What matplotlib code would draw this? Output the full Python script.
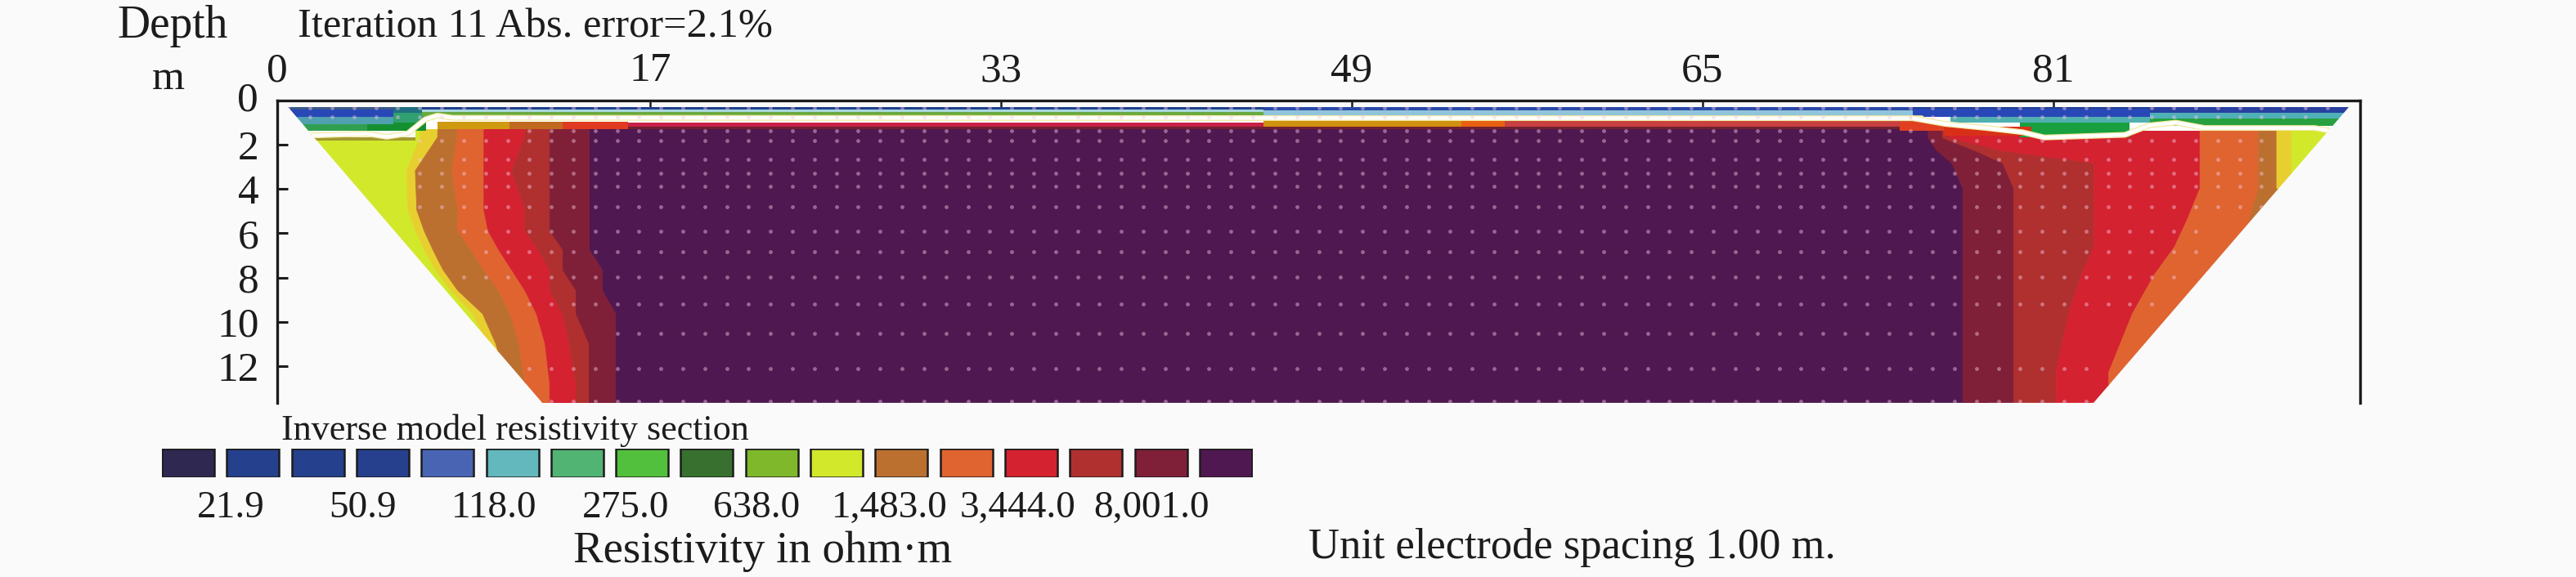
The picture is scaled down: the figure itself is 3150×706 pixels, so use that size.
import matplotlib
matplotlib.use('Agg')
import matplotlib.pyplot as plt
import numpy as np
from matplotlib.patches import Polygon

W, H = 3150, 706
BG = '#fafafa'
INK = '#1c1c1c'
plt.rcParams['font.family'] = ['Liberation Serif', 'DejaVu Serif']

# legend
swatch_colors = ['#2f2850', '#25408c', '#25408c', '#27408e', '#4a64b4', '#62b8bc', '#52b473',
                 '#52c03c', '#38702f', '#7fb82a', '#d2e82a', '#bc7030', '#e06430', '#d42230',
                 '#b03030', '#802038', '#501850']
legend_labels = ['21.9', '50.9', '118.0', '275.0', '638.0', '1,483.0', '3,444.0', '8,001.0']
legend_label_pos = [1.06, 3.09, 5.12, 7.15, 9.17, 11.22, 13.2, 15.26]

YELLOW, GOLD, BROWN, ORANGE, RED, BRICK, MAROON, PURPLE = ('#d2e82a', '#e8cf30', '#bc7030', '#e06430',
                                                           '#d42230', '#b03030', '#802038', '#501850')

xticks = [0, 17, 33, 49, 65, 81]
yticks = [2, 4, 6, 8, 10, 12]

# section outline, electrode units / metres
outline_x = [0.48, 94.5, 82.84, 12.09]
outline_d = [0.28, 0.28, 13.66, 13.66]

# left side: colour boundaries per depth row
left_top = [1.3, 1.98, 4.32, 5.55, 6.17, 7.27, 8.01, 9.12, 10.11, 11.83]
left_bot = [1.98, 4.32, 5.55, 6.17, 7.27, 8.01, 9.12, 10.11, 11.83, 13.66]
left_gold = [6.5, 5.9, 5.95, 6.3, 6.7, 7.2, 7.9, 8.9, 9.6, 10.5]
left_brown = [7.3, 6.28, 6.35, 6.68, 7.08, 7.55, 8.22, 9.35, 9.95, 10.5]
left_orange = [8.2, 7.95, 8.22, 8.22, 8.82, 9.41, 10.08, 10.61, 11.01, 11.28]
left_red = [9.41, 9.41, 9.41, 9.6, 10.08, 10.68, 11.28, 11.81, 12.2, 12.41]
left_brick = [11.28, 10.68, 11.28, 11.28, 11.88, 12.41, 12.41, 13.01, 13.3, 13.61]
left_maroon = [12.41, 12.41, 12.41, 12.41, 13.01, 13.01, 13.61, 13.61, 14.21, 14.21]
left_purple = [14.21, 14.21, 14.21, 14.21, 14.21, 14.81, 14.81, 15.41, 15.41, 15.41]

# right side
right_top = [1.37, 1.98, 2.53, 3.09, 4.81, 5.92, 7.27, 8.44, 10.78]
right_bot = [1.98, 2.53, 3.09, 4.81, 5.92, 7.27, 8.44, 10.78, 13.74]
right_maroon = [75.28, 75.69, 76.36, 76.86, 76.86, 76.86, 76.86, 76.86, 76.86]
right_brick = [75.94, 77.44, 78.69, 79.19, 79.19, 79.19, 79.19, 79.19, 79.19]
right_red = [76.28, 78.69, 82.85, 82.85, 82.85, 82.85, 82.27, 81.69, 81.11]
right_orange = [87.68, 87.68, 87.68, 87.68, 87.1, 86.52, 85.6, 84.6, 83.52]
right_brown = [90.35, 90.35, 90.35, 90.35, 89.93, 95, 95, 95, 95]
right_gold = [91.18, 91.18, 91.18, 91.18, 95, 95, 95, 95, 95]
right_yellow = [91.85, 91.85, 91.85, 91.85, 95, 95, 95, 95, 95]

# shallow layers
surf_x0 = [0, 0, 0, 0, 5.3, 5.3, 5.3, 4.1, 0, 0,
           6.6, 6.6, 6.6, 45, 45, 74.6, 74.6, 76.3, 79.5, 85.4, 85.4, 85.4,
           7.3, 10.6, 13, 16, 45, 54, 56, 16, 74, 76]
surf_x1 = [5.5, 5.5, 5.5, 5.5, 6.8, 6.8, 6.8, 6.3, 6.3, 6.3,
           45, 45, 45, 75, 75, 85.4, 85.4, 85.4, 84.5, 95, 95, 95,
           10.6, 13, 16, 45, 54, 56, 75, 75, 76, 80]
surf_top = [0.28, 0.41, 0.75, 1.06, 0.28, 0.55, 1.0, 1.06, 1.37, 1.68,
            0.28, 0.42, 0.52, 0.28, 0.44, 0.3, 0.38, 0.75, 1.0, 0.3, 0.57, 0.81,
            0.95, 0.95, 0.95, 1.0, 0.87, 0.87, 0.87, 1.2, 0.95, 1.2]
surf_bot = [0.41, 0.75, 1.06, 1.37, 0.55, 1.0, 1.37, 1.37, 1.68, 1.8,
            0.42, 0.52, 0.7, 0.44, 0.75, 0.38, 0.75, 1.0, 1.68, 0.57, 0.81, 1.15,
            1.3, 1.3, 1.3, 1.25, 1.3, 1.3, 1.3, 1.3, 1.37, 1.6]
surf_col = ['#3a5a88', '#2848b8', '#50a0b0', '#30a050', '#1f6f80', '#30a070', '#159030', '#159030', '#ffffff', '#a09a30',
            '#1f3f90', '#a8d8dc', '#6aa840', '#2a48a8', '#90c4dc', '#1f3f90', '#2848b8', '#50b0b0', '#18a040',
            '#2840a0', '#50b0b8', '#28a040',
            '#d09a10', '#c06a20', '#e03a20', '#c82048', '#d09010', '#e86010', '#c84040', '#702030', '#e04020', '#d83018']

# white contour lines
white_left_x = [1.6, 4.1, 5.0, 5.95, 6.75, 7.3, 8.0, 75.0]
white_left_d = [1.58, 1.5, 1.64, 1.49, 0.85, 0.68, 0.78, 0.8]
white_right_x = [74.6, 76.1, 77.94, 79.6, 80.6, 84.27, 85.4, 86.6, 87.9, 92.93, 93.6]
white_right_d = [0.8, 1.06, 1.24, 1.43, 1.67, 1.55, 1.12, 1.0, 1.24, 1.24, 1.37]

# data points (half electrode positions)
dot_depth = [0.33, 0.75, 1.37, 1.81, 2.66, 3.29, 3.88, 4.8, 5.9, 6.83, 7.98, 9.2, 10.52, 12.11, 13.6]
dot_first = [0.5, 1.5, 11.5, 6.5, 6.5, 6.5, 6.5, 6.5, 8.5, 9.5, 8.5, 11.5, 15.5, 11.5, 12.5]
dot_last = [94.5, 92.5, 74.5, 90.5, 90.5, 90.5, 90.5, 90.5, 87.5, 87.5, 86.5, 85.5, 77.5, 82.5, 82.5]

fig = plt.figure(figsize=(W / 100, H / 100), dpi=100, facecolor=BG)

left, right, top, bottom = 339, 2886, 123, 493
ax = fig.add_axes([left / W, 1 - bottom / H, (right - left) / W, (bottom - top) / H], facecolor=BG)
ax.set_xlim(0, 95)
ax.set_ylim((bottom - top) / 27.08, 0)

clip = Polygon(np.column_stack([outline_x, outline_d]), closed=True, transform=ax.transData,
               facecolor='#ffffff', edgecolor='none', zorder=1)
ax.add_patch(clip)


def band(x0, x1, d0, d1, color, z=3):
    b = ax.barh((np.array(d0) + np.array(d1)) / 2, np.array(x1) - np.array(x0), left=x0,
                height=np.array(d1) - np.array(d0), color=color, linewidth=0, zorder=z)
    for p in b:
        p.set_clip_path(clip)


def column(x0, x1, tops, bots, color):
    # edges run straight between the row middles
    tops, bots = np.array(tops), np.array(bots)
    d = np.r_[tops[0], (tops + bots) / 2, bots[-1]]
    a = np.r_[x0[0], x0, x0[-1]]
    b = np.r_[x1[0], x1, x1[-1]]
    poly = ax.fill_betweenx(d, a, b, color=color, linewidth=0.6, zorder=2)
    poly.set_clip_path(clip)


band([14], [78], [1.3], [13.66], PURPLE, z=2)

left_cols = [left_gold, left_brown, left_orange, left_red, left_brick, left_maroon, left_purple]
left_colors = [GOLD, BROWN, ORANGE, RED, BRICK, MAROON]
column(np.zeros(len(left_top)), left_gold, left_top, left_bot, YELLOW)
for i, c in enumerate(left_colors):
    column(left_cols[i], left_cols[i + 1], left_top, left_bot, c)

right_cols = [right_maroon, right_brick, right_red, right_orange, right_brown, right_gold, right_yellow]
right_colors = [MAROON, BRICK, RED, ORANGE, BROWN, GOLD]
for i, c in enumerate(right_colors):
    column(right_cols[i], right_cols[i + 1], right_top, right_bot, c)
column(right_yellow, np.full(len(right_top), 95), right_top, right_bot, YELLOW)

for x0, x1, d0, d1, c in zip(surf_x0, surf_x1, surf_top, surf_bot, surf_col):
    band([x0], [x1], [d0], [d1], c)

for xs, ds in [(white_left_x, white_left_d), (white_right_x, white_right_d)]:
    ln1, = ax.plot(xs, ds, color='#f2eaa0', lw=5.0, zorder=4, solid_capstyle='round')
    ln2, = ax.plot(xs, ds, color='#ffffff', lw=3.2, zorder=4, solid_capstyle='round')
    ln1.set_clip_path(clip)
    ln2.set_clip_path(clip)

for d, a, b in zip(dot_depth, dot_first, dot_last):
    xs = np.arange(a, b + 0.5)
    s = ax.scatter(xs, np.full(len(xs), d), s=12, color='#f4c8e4', alpha=0.45, linewidths=0, zorder=5)
    s.set_clip_path(clip)

ax.spines['bottom'].set_visible(False)
for k in ['left', 'top', 'right']:
    ax.spines[k].set_linewidth(2.4)
    ax.spines[k].set_color(INK)
ax.xaxis.tick_top()
ax.set_xticks(xticks)
ax.set_yticks(yticks)
ax.tick_params(axis='x', direction='in', length=9.5, width=1.8, pad=9, labelsize=37, colors=INK)
ax.tick_params(axis='y', direction='in', length=9.5, width=2.2, pad=16, labelsize=37, colors=INK)
# the zero of the depth axis has a label of its own, above the corner
fig.text(316 / W, 1 - 123 / H, '0', ha='right', va='center', fontsize=37, color=INK)

# colour legend
leg = fig.add_axes([198 / W, 1 - 584 / H, (1532 - 198) / W, 35 / H], facecolor='none')
leg.bar(np.arange(len(swatch_colors)), np.ones(len(swatch_colors)), width=0.807, align='edge',
        color=swatch_colors, edgecolor=INK, linewidth=1.8)
leg.set_xlim(0, 16.82)
leg.set_ylim(0, 1)
leg.set_yticks([])
leg.set_xticks(legend_label_pos, legend_labels)
leg.tick_params(axis='x', length=0, pad=12, labelsize=34, colors=INK)
for s in leg.spines.values():
    s.set_visible(False)


def label(x, y, txt, size, ha='left'):
    fig.text(x / W, 1 - y / H, txt, fontsize=size, ha=ha, va='baseline', color=INK)


label(143, 46, 'Depth', 40)
label(186, 109, 'm', 37)
label(364, 46, 'Iteration 11 Abs. error=2.1%', 36.4)
label(344, 538, 'Inverse model resistivity section', 31.8)
label(701, 688, 'Resistivity in ohm·m', 39.5)
label(1600, 683, 'Unit electrode spacing 1.00 m.', 37.8)

fig.savefig('out.png', dpi=100, facecolor=BG)
